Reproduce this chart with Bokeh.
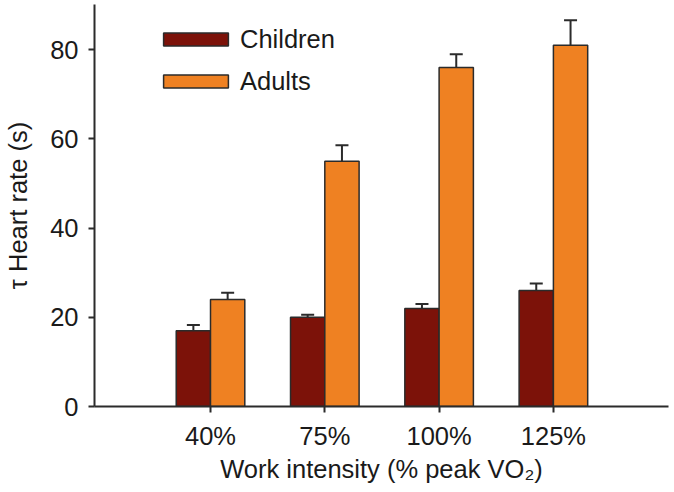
from bokeh.plotting import figure
from bokeh.models import ColumnDataSource, Range1d, Whisker, TeeHead, Legend, LegendItem, FixedTicker
from bokeh.embed import file_html
from bokeh.resources import INLINE

categories = ["40%", "75%", "100%", "125%"]
children = [17, 20, 22, 26]
children_err = [1.3, 0.6, 1.0, 1.6]
adults = [24, 55, 76, 81]
adults_err = [1.5, 3.6, 3.0, 5.6]

pos = [1, 2, 3, 4]
offset = 0.15
bw = 0.30

FONT = "Liberation Sans"
FS = "25.5px"
DARK = "#2b2b2b"
TXT = "#1a1a1a"

p = figure(width=674, height=492, output_backend="svg", toolbar_location=None,
           x_range=Range1d(-0.015, 5.007), y_range=Range1d(0, 90.15),
           min_border_left=94, min_border_right=6, min_border_top=4, min_border_bottom=86)
p.outline_line_color = None
p.grid.visible = False

src_c = ColumnDataSource(dict(x=[v - offset for v in pos], top=children,
                              upper=[a + b for a, b in zip(children, children_err)]))
src_a = ColumnDataSource(dict(x=[v + offset for v in pos], top=adults,
                              upper=[a + b for a, b in zip(adults, adults_err)]))

rc = p.vbar(x="x", top="top", width=bw, source=src_c, fill_color="#7c1209",
            line_color=DARK, line_width=1.5)
ra = p.vbar(x="x", top="top", width=bw, source=src_a, fill_color="#ef8122",
            line_color=DARK, line_width=1.5)

for src in (src_c, src_a):
    w = Whisker(base="x", lower="top", upper="upper", source=src,
                line_color=DARK, line_width=2,
                upper_head=TeeHead(size=13, line_color=DARK, line_width=2),
                lower_head=None, level="underlay")
    p.add_layout(w)

legend = Legend(items=[LegendItem(label="Children", renderers=[rc]),
                       LegendItem(label="Adults", renderers=[ra])],
                location=(61, 310), orientation="vertical",
                glyph_width=81, glyph_height=16, label_standoff=4,
                label_height=30, spacing=12, padding=0, margin=0,
                border_line_color=None, background_fill_alpha=0,
                label_text_font=FONT, label_text_font_size=FS,
                label_text_color=TXT)
p.add_layout(legend, "center")

for ax in (p.xaxis[0], p.yaxis[0]):
    ax.axis_line_color = DARK
    ax.axis_line_width = 2
    ax.major_tick_line_color = DARK
    ax.major_tick_line_width = 2
    ax.major_tick_out = 6
    ax.major_tick_in = 0
    ax.minor_tick_line_color = None
    ax.major_label_text_font = FONT
    ax.major_label_text_font_size = FS
    ax.major_label_text_color = TXT
    ax.axis_label_text_font = FONT
    ax.axis_label_text_font_size = FS
    ax.axis_label_text_font_style = "normal"
    ax.axis_label_text_color = TXT

p.xaxis.ticker = FixedTicker(ticks=pos)
p.xaxis.major_label_overrides = {v: c for v, c in zip(pos, categories)}
p.xaxis.major_label_standoff = 9
p.xaxis.axis_label = "Work intensity (% peak VO\u2082)"
p.xaxis.axis_label_standoff = 2

p.yaxis.ticker = FixedTicker(ticks=[0, 20, 40, 60, 80])
p.yaxis.major_label_standoff = 10
p.yaxis.axis_label = "\u03c4 Heart rate (s)"
p.yaxis.axis_label_standoff = 15

open("out.html", "w").write(file_html(p, INLINE))
